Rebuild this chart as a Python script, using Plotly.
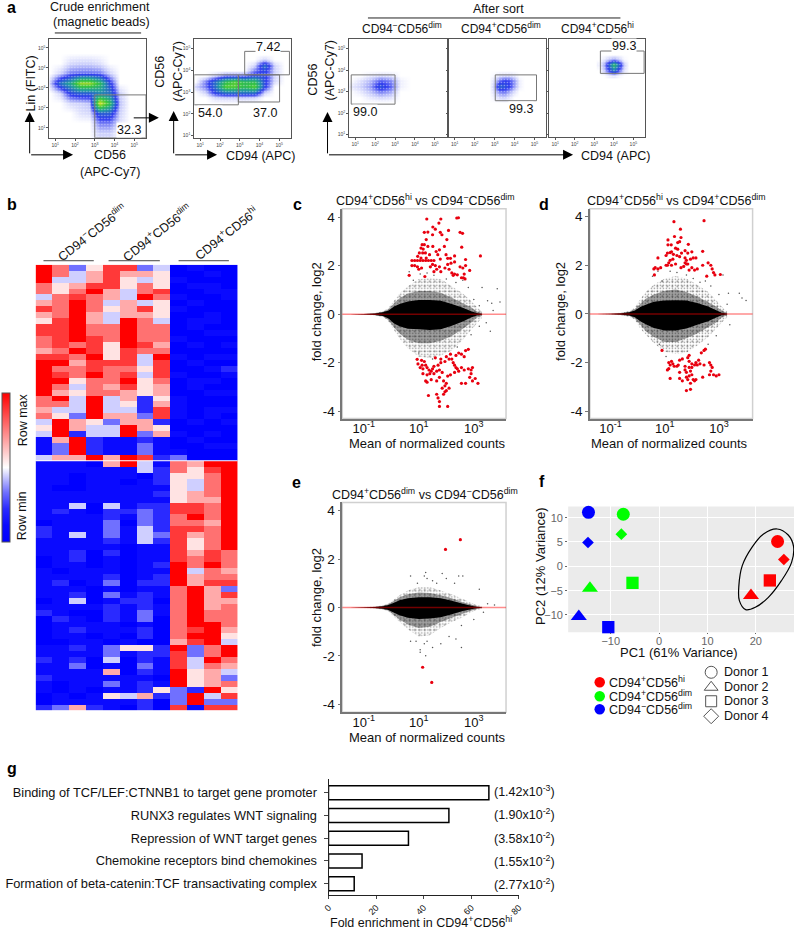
import plotly.graph_objects as go

FONT = 'Liberation Sans'

# ---- panel a, density grids (log10 positions)
a1_x = [0.75, 1.25, 1.75, 2.25, 2.75, 3.25, 3.75, 4.25, 4.75, 5.25]
a1_y = [0.75, 1.25, 1.75, 2.25, 2.75, 3.25, 3.75, 4.25, 4.75, 5.25]
a1_z = [[0, 0, 0, 0, 0, 0.6, 0.6, 0, 0, 0],
        [0, 0, 0, 0, 0, 1.5, 1.5, 0.4, 0, 0],
        [0, 0, 0, 0.4, 0.5, 3, 3, 0.6, 0, 0],
        [0, 0, 0.5, 0.6, 0.8, 9, 6, 0.8, 0, 0],
        [0, 0.6, 2.5, 3, 3, 4, 3.5, 0.6, 0, 0],
        [0.8, 3.5, 5, 8, 8, 6, 2.5, 0, 0, 0],
        [0, 0.6, 1.5, 1.6, 1.6, 1.5, 0.6, 0, 0, 0],
        [0, 0, 0.5, 0.6, 0.6, 0.4, 0, 0, 0, 0],
        [0, 0, 0, 0, 0, 0, 0, 0, 0, 0],
        [0, 0, 0, 0, 0, 0, 0, 0, 0, 0]]
a2_x = [0.75, 1.25, 1.75, 2.25, 2.75, 3.25, 3.75, 4.25, 4.75, 5.25]
a2_y = [2.5, 2.75, 3.0, 3.25, 3.5, 3.75, 4.0, 4.25, 4.5, 4.75]
a2_z = [[0, 0, 0, 0, 0, 0, 0, 0, 0, 0],
        [0, 0, 0.5, 0.6, 0.6, 0.6, 0.5, 0, 0, 0],
        [0, 0.6, 2.5, 3.5, 3.5, 3.5, 3.5, 0.6, 0, 0],
        [0.6, 1.5, 3.5, 7, 7, 6, 7, 2.5, 0, 0],
        [0, 1.5, 3.5, 6, 7, 6, 6, 2.5, 0.5, 0],
        [0, 0, 0.6, 1.5, 1.5, 1.5, 2.5, 2.5, 0.5, 0],
        [0, 0, 0, 0, 0, 0, 1.5, 2.5, 0.6, 0],
        [0, 0, 0, 0, 0, 0, 0.6, 3.5, 0.6, 0],
        [0, 0, 0, 0, 0, 0, 0, 0.6, 0, 0],
        [0, 0, 0, 0, 0, 0, 0, 0, 0, 0]]
a3_x = [0.75, 1.25, 1.75, 2.25, 2.75, 3.25, 3.75]
a3_y = [2.5, 2.75, 3.0, 3.25, 3.5, 3.75, 4.0]
a3_z = [[0, 0, 0, 0, 0, 0, 0],
        [0, 0, 0.3, 0.5, 0.4, 0, 0],
        [0, 0.3, 0.8, 1.5, 1.1, 0, 0],
        [0.3, 0.6, 1.2, 2.8, 1.8, 0.2, 0],
        [0, 0.4, 0.9, 1.8, 1.4, 0.2, 0],
        [0, 0, 0.3, 0.5, 0.4, 0, 0],
        [0, 0, 0, 0, 0, 0, 0]]
a4_x = [2.75, 3.0, 3.25, 3.5, 3.75, 4.0, 4.25, 4.5]
a4_y = [2.5, 2.75, 3.0, 3.25, 3.5, 3.75, 4.0]
a4_z = [[0, 0, 0, 0, 0, 0, 0, 0],
        [0, 0.2, 0.5, 0.6, 0.3, 0, 0, 0],
        [0, 0.5, 1.4, 1.6, 1.0, 0.4, 0, 0],
        [0, 0.8, 3.2, 2.8, 2.2, 1.1, 0.2, 0],
        [0, 0.5, 1.6, 2.2, 2.0, 1.2, 0.2, 0],
        [0, 0.1, 0.4, 0.5, 0.5, 0.3, 0, 0],
        [0, 0, 0, 0, 0, 0, 0, 0]]
a5_x = [3.25, 3.5, 3.75, 4.0, 4.25, 4.5, 4.75]
a5_y = [3.75, 4.0, 4.25, 4.5, 4.75]
a5_z = [[0, 0, 0.2, 0.3, 0.1, 0, 0],
        [0, 0.7, 2.2, 3.8, 1.8, 0.4, 0],
        [0.2, 1.0, 3.2, 5.8, 3.2, 0.7, 0],
        [0, 0.3, 0.8, 1.2, 0.7, 0.1, 0],
        [0, 0, 0, 0, 0, 0, 0]]
a_ticks = [1, 2, 3, 4, 5]
a_tick_text = ['10<sup>1</sup>', '10<sup>2</sup>', '10<sup>3</sup>', '10<sup>4</sup>', '10<sup>5</sup>']
# gates: x0, x1, y0, y1
a1_gate = [3.0, 5.6, 0.5, 2.65]
a2_gates = [[0.68, 2.93, 2.42, 3.8], [2.93, 5.02, 2.55, 3.8], [3.25, 5.52, 3.8, 4.88]]
a3_gate = [0.8, 3.0, 2.42, 3.78]
a4_gate = [3.03, 5.1, 2.58, 3.78]
a5_gate = [3.31, 5.55, 3.85, 4.89]

# ---- panel b, row-scaled expression, 0 = row min, 9 = row max
heat_rows = [
    "973588340100", "974686650010", "944685451000", "756885750110", "757964780011",
    "478764971001", "679746450100", "879756851000", "679646650010", "589649740110",
    "889779770100", "889779770011", "789879771000", "787859860101", "679858770000",
    "887958491011", "996888480100", "977877580012", "987978481001", "995779570110",
    "974768560100", "965776560011", "794946251000", "774945261000", "644944281011",
    "753966381010", "496536620101", "596449650000", "492449361010", "169211210100",
    "139211310011", "139211311000", "466969823000",
    "111069417699", "111111427589", "110111025579", "110110125479", "100111115479",
    "111111125679", "111111115669", "114041228879", "121022328879", "111121327979",
    "011130327769", "211131428879", "214131438679", "111121428579", "111110118579",
    "112020118687", "012010118787", "011010129797", "101110119476", "111120129677",
    "120130229688", "111010117963", "112031217968", "014012207966", "111121217967",
    "210021317977", "021021307977", "011110107997", "012111207896", "011010207995",
    "001101006894", "112135529379", "111131228379", "212040218497", "113010318476",
    "111160219564", "211111109563", "101131219567", "101011253295", "010154623948",
    "011111203933", "236210208188",
]
# low digits stay close to pure blue, as in the reference
heat_cmap = [[0, '#0000ff'], [1 / 9, '#0a0aff'], [2 / 9, '#2a2aff'], [3 / 9, '#7070ff'],
             [4.5 / 9, '#ffffff'], [1, '#ff0000']]

# ---- MA plots, x values are log10 of the mean count
c_cloud_x = [-1.5, -1.0, -0.6, -0.3, -0.1, 0.1, 0.3, 0.6, 1.0, 1.4, 1.8, 2.2, 2.6, 2.9, 3.1, 3.3]
c_core_up = [0.0, 0.01, 0.03, 0.08, 0.15, 0.32, 0.42, 0.52, 0.58, 0.58, 0.55, 0.42, 0.26, 0.12, 0.05, 0.02]
c_core_lo = [0.0, -0.01, -0.03, -0.08, -0.18, -0.38, -0.5, -0.6, -0.62, -0.65, -0.62, -0.48, -0.3, -0.14, -0.06, -0.02]
c_mid_up = [0.0, 0.01, 0.04, 0.1, 0.2, 0.45, 0.65, 0.85, 0.95, 0.95, 0.88, 0.68, 0.45, 0.28, 0.12, 0.04]
c_mid_lo = [0.0, -0.01, -0.04, -0.1, -0.25, -0.55, -0.8, -1.05, -1.2, -1.2, -1.1, -0.9, -0.6, -0.35, -0.15, -0.05]
c_out_up = [0.0, 0.02, 0.05, 0.12, 0.25, 0.55, 0.85, 1.15, 1.45, 1.5, 1.45, 1.15, 0.85, 0.55, 0.3, 0.1]
c_out_lo = [0.0, -0.02, -0.05, -0.12, -0.3, -0.65, -1.0, -1.4, -1.75, -1.8, -1.7, -1.5, -1.05, -0.65, -0.4, -0.15]
c_stray_x = [0.65, 0.8, 1.05, 1.3, 1.55, 2.0, 2.35, 2.6, 2.8, 3.3, 3.5, 3.65, 3.85, 3.95, 3.0, 3.2, 3.45, 3.6, 3.2, 2.9, 1.0, 1.5, 2.4, 0.75, 3.7]
c_stray_y = [1.75, 1.4, 1.65, 1.7, 1.6, 1.45, 1.3, 1.4, 1.1, 1.1, 0.55, 0.45, 1.05, 0.5, 0.6, 0.35, -0.35, -0.7, -0.5, -0.85, -1.6, -1.85, -1.35, -1.15, 0.15]
c_up_x = [1.29, 1.8, 1.73, 1.51, 1.6, 2.08, 2.38, 2.44, 2.5, 2.59, 1.2, 1.33, 1.5, 1.78, 1.84, 1.27, 2.02, 1.12, 1.2, 1.08, 1.16, 1.33, 1.51, 1.63, 1.75, 1.93, 2.56, 1.02, 1.14, 1.24, 1.39, 1.69, 1.99, 3.24, 0.96, 1.08, 1.27, 1.78, 2.7, 2.3, 2.17, 2.05, 0.75, 0.85, 0.95, 1.05, 1.15, 1.25, 1.35, 1.45, 1.55, 0.75, 0.85, 0.95, 1.0, 1.1, 1.6, 1.65, 1.75, 1.8, 1.95, 2.1, 2.2, 2.25, 2.3, 2.4, 2.5, 2.6, 2.7, 2.85, 2.55, 2.62, 2.68, 2.65, 0.65, 1.22, 1.42, 1.5, 1.55, 2.05, 2.15, 2.3]
c_up_y = [3.92, 3.92, 3.75, 3.59, 3.5, 3.45, 3.96, 3.97, 3.37, 3.33, 3.37, 3.38, 3.27, 3.37, 3.27, 3.07, 3.07, 2.86, 2.86, 2.72, 2.68, 2.79, 2.79, 2.58, 2.65, 2.79, 2.76, 2.52, 2.52, 2.52, 2.45, 2.45, 2.45, 2.4, 2.38, 2.31, 2.31, 2.27, 2.25, 2.15, 2.1, 2.05, 2.21, 2.21, 2.21, 2.21, 2.21, 2.21, 2.21, 2.21, 2.21, 2.0, 2.0, 1.95, 1.85, 1.9, 2.0, 1.85, 1.95, 1.75, 1.9, 1.85, 1.7, 1.6, 1.65, 1.62, 1.95, 1.9, 2.0, 1.8, 1.5, 1.5, 1.45, 1.65, 1.6, 1.55, 1.95, 2.05, 1.75, 2.3, 2.3, 2.4]
c_dn_x = [0.94, 0.97, 1.1, 1.12, 1.2, 1.25, 1.05, 1.15, 1.3, 1.37, 1.45, 1.5, 1.55, 1.15, 1.3, 1.4, 1.55, 1.65, 1.75, 1.85, 1.25, 1.3, 1.45, 1.65, 1.75, 1.9, 1.35, 1.65, 1.7, 1.75, 1.75, 2.05, 1.9, 1.95, 2.0, 2.1, 1.85, 1.95, 2.0, 2.05, 2.15, 2.3, 2.4, 2.45, 2.55, 2.65, 2.8, 2.9, 2.95, 2.9, 2.85, 2.55, 2.7, 2.95, 3.05, 3.15, 2.15, 2.2, 2.25, 2.35, 2.45, 2.55, 2.65, 2.7, 2.8, 1.7, 1.8, 1.8, 1.95, 2.0, 2.1, 1.6, 2.3, 2.35]
c_dn_y = [-1.86, -2.05, -1.9, -2.1, -1.95, -2.1, -2.2, -2.25, -2.2, -2.3, -2.35, -2.25, -2.15, -2.45, -2.5, -2.45, -2.45, -2.35, -2.3, -2.4, -2.75, -2.8, -2.7, -2.75, -2.6, -2.75, -3.35, -3.3, -3.45, -3.6, -3.8, -3.8, -3.3, -3.2, -3.15, -3.05, -3.05, -2.95, -2.85, -2.55, -2.5, -2.4, -2.25, -2.35, -2.2, -2.3, -2.25, -2.3, -2.2, -2.45, -2.6, -2.85, -2.85, -2.75, -2.65, -2.85, -1.65, -1.85, -2.0, -1.7, -1.6, -1.65, -1.75, -1.5, -1.45, -2.1, -1.85, -2.0, -1.95, -1.75, -1.85, -1.8, -2.1, -2.2]

d_core_up = [0.0, 0.01, 0.03, 0.07, 0.14, 0.28, 0.38, 0.5, 0.55, 0.56, 0.55, 0.45, 0.3, 0.15, 0.05, 0.02]
d_core_lo = [0.0, -0.01, -0.03, -0.07, -0.14, -0.3, -0.42, -0.58, -0.68, -0.68, -0.6, -0.45, -0.3, -0.15, -0.06, -0.02]
d_mid_up = [0.0, 0.01, 0.04, 0.09, 0.2, 0.42, 0.62, 0.8, 0.95, 1.0, 0.9, 0.72, 0.48, 0.3, 0.14, 0.04]
d_mid_lo = [0.0, -0.01, -0.04, -0.09, -0.2, -0.45, -0.7, -0.95, -1.15, -1.15, -1.0, -0.8, -0.55, -0.35, -0.15, -0.05]
d_out_up = [0.0, 0.02, 0.05, 0.12, 0.28, 0.6, 0.9, 1.2, 1.45, 1.55, 1.45, 1.2, 0.9, 0.55, 0.3, 0.1]
d_out_lo = [0.0, -0.02, -0.05, -0.12, -0.25, -0.6, -0.85, -1.2, -1.55, -1.65, -1.6, -1.3, -0.95, -0.6, -0.35, -0.15]
d_stray_x = [0.55, 0.75, 0.9, 1.2, 1.45, 1.8, 2.05, 2.3, 2.5, 2.7, 3.15, 3.35, 3.75, 3.85, 4.0, 3.3, 3.0, 2.9, 3.4, 1.05, 0.8, 2.6]
d_stray_y = [1.55, 1.75, 1.35, 1.75, 1.7, 1.6, 1.45, 1.3, 1.35, 1.15, 1.6, 0.85, 0.85, 0.65, 0.55, 0.4, 0.8, -0.9, -0.45, -1.75, -1.25, -1.25]
d_up_x = [1.34, 2.45, 1.58, 1.36, 1.6, 1.55, 1.48, 1.12, 1.12, 1.24, 1.87, 1.48, 1.4, 1.62, 1.75, 1.85, 2.0, 2.4, 1.1, 1.2, 1.25, 1.32, 1.05, 1.3, 1.2, 1.15, 1.45, 1.55, 1.75, 1.8, 1.95, 2.05, 2.15, 0.75, 0.65, 0.6, 0.75, 0.85, 1.05, 1.1, 1.25, 1.4, 1.6, 1.7, 1.75, 1.8, 1.9, 2.0, 2.1, 2.2, 2.4, 2.6, 2.7, 2.75, 2.8, 2.85, 3.05, 2.55, 0.62, 1.85]
d_up_y = [3.79, 3.83, 3.48, 3.18, 3.14, 2.97, 2.93, 3.04, 2.84, 2.84, 2.86, 2.66, 2.7, 2.5, 2.6, 2.5, 2.55, 2.57, 2.5, 2.52, 2.55, 2.45, 2.4, 2.25, 2.2, 2.1, 2.4, 2.35, 2.3, 2.2, 2.25, 2.3, 2.3, 2.3, 1.9, 1.85, 1.85, 1.9, 2.0, 2.0, 2.0, 2.05, 1.9, 1.95, 2.1, 2.05, 1.8, 1.9, 1.8, 1.85, 2.0, 2.1, 2.0, 1.85, 1.7, 1.6, 1.62, 1.55, 1.6, 2.05]
d_dn_x = [0.9, 1.15, 1.2, 1.25, 1.3, 1.35, 1.1, 1.15, 1.45, 1.55, 1.65, 1.85, 1.9, 2.0, 2.15, 2.25, 2.35, 2.45, 2.5, 2.3, 2.45, 2.65, 2.7, 2.75, 2.7, 2.65, 2.8, 2.9, 3.0, 2.4, 1.2, 1.55, 1.55, 1.65, 1.75, 1.8, 1.8, 1.85, 1.9, 1.95, 2.0, 2.05, 2.1, 2.15, 1.95, 1.8, 1.95, 2.0, 1.75, 1.9, 2.1, 2.2, 1.9, 1.5]
d_dn_y = [-1.5, -2.0, -2.1, -1.95, -2.05, -2.15, -2.3, -2.25, -2.15, -1.9, -1.85, -1.8, -1.95, -2.05, -2.0, -1.9, -1.6, -1.5, -1.45, -2.05, -2.1, -2.0, -2.1, -2.2, -2.35, -2.5, -2.5, -2.55, -2.5, -2.6, -2.65, -2.4, -2.65, -2.75, -2.3, -2.4, -2.6, -2.7, -2.55, -2.35, -2.5, -2.7, -2.75, -2.7, -2.85, -3.15, -3.1, -2.2, -2.15, -2.2, -2.1, -2.1, -1.7, -2.1]

e_core_up = [0.0, 0.01, 0.02, 0.05, 0.1, 0.2, 0.3, 0.38, 0.42, 0.42, 0.38, 0.28, 0.15, 0.07, 0.03, 0.01]
e_core_lo = [0.0, -0.01, -0.02, -0.05, -0.1, -0.22, -0.32, -0.42, -0.48, -0.46, -0.4, -0.28, -0.15, -0.07, -0.03, -0.01]
e_mid_up = [0.0, 0.01, 0.03, 0.07, 0.14, 0.28, 0.42, 0.55, 0.62, 0.6, 0.5, 0.38, 0.22, 0.12, 0.05, 0.02]
e_mid_lo = [0.0, -0.01, -0.03, -0.07, -0.14, -0.32, -0.5, -0.7, -0.85, -0.8, -0.6, -0.42, -0.26, -0.14, -0.06, -0.02]
e_out_up = [0.0, 0.02, 0.04, 0.08, 0.17, 0.33, 0.5, 0.7, 0.85, 0.85, 0.7, 0.55, 0.35, 0.2, 0.1, 0.04]
e_out_lo = [0.0, -0.02, -0.04, -0.08, -0.17, -0.38, -0.6, -0.9, -1.2, -1.15, -0.85, -0.6, -0.4, -0.2, -0.1, -0.04]
e_stray_x = [0.7, 0.95, 1.2, 1.25, 1.3, 1.5, 1.65, 1.85, 2.0, 2.3, 2.45, 2.6, 3.2, 3.5, 3.75, 0.7, 0.9, 1.05, 1.2, 1.3, 1.5, 1.8, 2.1, 2.35, 2.55, 2.55, 3.35, 1.05, 1.25, 3.0]
e_stray_y = [1.3, 1.0, 1.3, 1.45, 1.2, 1.1, 1.0, 1.4, 1.2, 1.0, 1.3, 1.3, 0.75, 0.15, 0.1, -1.4, -1.4, -1.75, -1.5, -1.4, -1.65, -1.5, -1.2, -1.3, -1.65, -0.75, -0.2, -1.85, -2.0, -0.5]
e_red_x = [1.97, 2.51, 1.14, 1.47]
e_red_y = [2.4, 2.8, -2.47, -3.1]

# ---- panel f
pca_x = [24.5, 19.0, 22.9, 25.8, -7.4, -14.3, -5.5, -7.8, -14.6, -16.6, -10.5, -14.7]
pca_y = [5.1, -6.0, -2.9, 1.4, 10.7, -4.5, -3.4, 6.6, 11.1, -10.3, -12.5, 4.9]
ring_x = [24.4, 26.7, 27.8, 27.4, 25.3, 22.6, 19.9, 17.9, 16.6, 16.5, 17.2, 19.2, 21.6, 24.4]
ring_y = [7.67, 6.44, 4.11, 0.82, -2.95, -6.37, -8.42, -8.9, -7.05, -3.97, 0.14, 3.9, 6.64, 7.67]

# ---- panel g
pathways = ['Binding of TCF/LEF:CTNNB1 to target gene promoter', 'RUNX3 regulates WNT signaling',
            'Repression of WNT target genes', 'Chemokine receptors bind chemokines',
            'Formation of beta-catenin:TCF transactivating complex']
enrichment = [67.4, 50.6, 33.6, 14.1, 10.8]
pvals = ['(1.42x10<sup>-3</sup>)', '(1.90x10<sup>-2</sup>)', '(3.58x10<sup>-2</sup>)',
         '(1.55x10<sup>-2</sup>)', '(2.77x10<sup>-2</sup>)']

NEG = 'CD94<sup>\u2212</sup>CD56<sup>dim</sup>'
POS = 'CD94<sup>+</sup>CD56<sup>dim</sup>'
HI = 'CD94<sup>+</sup>CD56<sup>hi</sup>'

fig = go.Figure()
layout = {}
shapes = []
notes = []


def box(n, l, t, r, b, xa, ya):
    layout[f'xaxis{n}'] = dict(domain=[l / 800, r / 800], anchor=f'y{n}', **xa)
    layout[f'yaxis{n}'] = dict(domain=[1 - b / 931, 1 - t / 931], anchor=f'x{n}', **ya)


def note(x, y, text, size=12.5, angle=0, anchor='center', bg=None, color='#111111'):
    notes.append(dict(x=x, y=y, xref='x12', yref='y12', text=text, showarrow=False, textangle=angle,
                      xanchor=anchor, yanchor='middle', bgcolor=bg, borderpad=0,
                      font=dict(family=FONT, size=size, color=color)))


def arrow(x0, y0, x1, y1):
    notes.append(dict(x=x1, y=y1, ax=x0, ay=y0, xref='x12', yref='y12', axref='x12', ayref='y12', text='',
                      showarrow=True, arrowhead=2, arrowsize=2, arrowwidth=1, arrowcolor='#000000'))


def rule(x0, x1, y, color='#222222', width=1):
    shapes.append(dict(type='line', xref='x12', yref='y12', x0=x0, x1=x1, y0=y, y1=y,
                       line=dict(color=color, width=width)))


flow_cmap = [[0, '#ffffff'], [0.08, '#c5c9fb'], [0.24, '#2f3af0'], [0.5, '#1f9a9e'],
             [0.72, '#33c43c'], [1, '#d8e020']]


def flow(n, l, t, r, b, xs, ys, z, gates, yrange, ylabels=True):
    ax = dict(tickvals=a_ticks, ticktext=a_tick_text, tickfont=dict(family=FONT, size=5, color='#444444'),
              ticks='outside', ticklen=2, tickcolor='#555555', showgrid=False, zeroline=False,
              showline=True, mirror=True, linecolor='#555555', linewidth=1)
    ay = dict(ax)
    ay['range'] = yrange
    if not ylabels:
        ay['showticklabels'] = False
    box(n, l, t, r, b, dict(ax, range=[0.7, 5.6]), ay)
    fig.add_trace(go.Heatmap(x=xs, y=ys, z=z, zsmooth='best', zmin=0, zmax=9, colorscale=flow_cmap,
                             showscale=False, xaxis=f'x{n}', yaxis=f'y{n}', hoverinfo='skip'))
    # white stipple over the density gives the grain of single events
    fig.add_trace(go.Scatter(x=[0.7, 5.6, 5.6, 0.7, 0.7], y=[yrange[0], yrange[0], yrange[1], yrange[1], yrange[0]],
                             fill='toself', mode='none', xaxis=f'x{n}', yaxis=f'y{n}', hoverinfo='skip',
                             fillcolor='rgba(255,255,255,0)',
                             fillpattern=dict(shape='.', size=3, solidity=0.2, fgcolor='#ffffff', bgcolor='rgba(255,255,255,0)')))
    for g in gates:
        shapes.append(dict(type='rect', xref=f'x{n}', yref=f'y{n}', x0=g[0], x1=g[1], y0=g[2], y1=g[3],
                           line=dict(color='#777777', width=1)))


flow(1, 44, 39, 142, 138, a1_x, a1_y, a1_z, [a1_gate], [0.5, 5.45])
flow(2, 191, 39, 289, 138, a2_x, a2_y, a2_z, a2_gates, [0.9, 5.45])
flow(3, 348, 39, 447, 137, a3_x, a3_y, a3_z, [a3_gate], [0.9, 5.45])
flow(4, 449, 39, 548, 137, a4_x, a4_y, a4_z, [a4_gate], [0.9, 5.45], ylabels=False)
flow(5, 551, 39, 648, 137, a5_x, a5_y, a5_z, [a5_gate], [0.9, 5.45], ylabels=False)

# heatmap b, the colour bar comes from the trace itself
fig.add_trace(go.Heatmap(z=[[int(c) for c in row] for row in heat_rows], zmin=0, zmax=9, colorscale=heat_cmap,
                         xaxis='x6', yaxis='y6', hoverinfo='skip',
                         colorbar=dict(x=-0.005, xanchor='left', y=1 - 393 / 931, yanchor='top', len=149 / 931,
                                       lenmode='fraction', thickness=8, xpad=0, ypad=0, ticks='',
                                       showticklabels=False, outlinecolor='#555555', outlinewidth=1)))
box(6, 30, 265, 235, 711, dict(visible=False, range=[-0.5, 11.5]), dict(visible=False, range=[74.5, -0.5]))
shapes.append(dict(type='line', xref='x6', yref='y6', x0=-0.5, x1=11.5, y0=32.5, y1=32.5,
                   line=dict(color='#ffffff', width=1)))


def ma(n, l, t, r, b, xrange, yrange, core_up, core_lo, mid_up, mid_lo, out_up, out_lo, sx, sy, rx, ry):
    xa = dict(range=xrange, tickvals=[-1, 1, 3], ticktext=['10<sup>-1</sup>', '10<sup>1</sup>', '10<sup>3</sup>'],
              tickfont=dict(family=FONT, size=13, color='#111111'), showgrid=False, zeroline=False,
              showline=True, linecolor='#777777', linewidth=1.5, ticks='', ticklen=0, ticklabelstandoff=-3)
    ya = dict(range=yrange, tickvals=[-4, -2, 0, 2, 4], ticktext=['-4', '-2', '0', '2', '4'],
              tickfont=dict(family=FONT, size=13.5, color='#111111'), showgrid=False, zeroline=False,
              showline=True, linecolor='#777777', linewidth=1.5, ticks='outside', ticklen=3, tickcolor='#777777')
    box(n, l, t, r, b, xa, ya)
    shapes.append(dict(type='rect', xref=f'x{n} domain', yref=f'y{n} domain', x0=0, x1=1, y0=0, y1=1,
                       line=dict(color='#d0d0d0', width=1.5), layer='below'))
    xs = c_cloud_x + c_cloud_x[::-1]
    # sparse fringe, two stipple pitches so the dots do not read as one regular grid
    for pitch, solid in [(3, 0.2), (5, 0.12)]:
        fig.add_trace(go.Scatter(x=xs, y=out_up + out_lo[::-1], fill='toself', mode='none', xaxis=f'x{n}', yaxis=f'y{n}',
                                 fillcolor='rgba(255,255,255,0)', hoverinfo='skip',
                                 fillpattern=dict(shape='.', size=pitch, solidity=solid, fgcolor='#222222', bgcolor='rgba(255,255,255,0)')))
    fig.add_trace(go.Scatter(x=xs, y=mid_up + mid_lo[::-1], fill='toself', mode='none', xaxis=f'x{n}', yaxis=f'y{n}',
                             fillcolor='rgba(255,255,255,0)', hoverinfo='skip',
                             fillpattern=dict(shape='.', size=2, solidity=0.75, fgcolor='#000000', bgcolor='rgba(255,255,255,0)')))
    fig.add_trace(go.Scatter(x=xs, y=core_up + core_lo[::-1], fill='toself', mode='none', xaxis=f'x{n}', yaxis=f'y{n}',
                             fillcolor='#000000', hoverinfo='skip'))
    fig.add_trace(go.Scatter(x=sx, y=sy, mode='markers', xaxis=f'x{n}', yaxis=f'y{n}', hoverinfo='skip',
                             marker=dict(size=1.5, color='#555555')))
    fig.add_trace(go.Scatter(x=rx, y=ry, mode='markers', xaxis=f'x{n}', yaxis=f'y{n}', hoverinfo='skip',
                             marker=dict(size=3.2, color='#e8000f')))
    shapes.append(dict(type='line', xref=f'x{n} domain', yref=f'y{n}', x0=0, x1=1, y0=0, y1=0,
                       line=dict(color='rgba(255,0,0,0.45)', width=1.5)))


ma(7, 341, 209, 507, 419, [-1.78, 4.17], [-4.3, 4.34], c_core_up, c_core_lo, c_mid_up, c_mid_lo, c_out_up, c_out_lo,
   c_stray_x, c_stray_y, c_up_x + c_dn_x, c_up_y + c_dn_y)
ma(8, 592, 209, 757, 419, [-1.76, 4.24], [-4.3, 4.32], d_core_up, d_core_lo, d_mid_up, d_mid_lo, d_out_up, d_out_lo,
   d_stray_x, d_stray_y, d_up_x + d_dn_x, d_up_y + d_dn_y)
ma(9, 341, 503, 507, 713, [-1.78, 4.17], [-4.33, 4.34], e_core_up, e_core_lo, e_mid_up, e_mid_lo, e_out_up, e_out_lo,
   e_stray_x, e_stray_y, e_red_x, e_red_y)

# PCA f
box(10, 570, 507, 799, 633,
    dict(range=[-18.8, 27.9], tickvals=[-10, 0, 10, 20], ticktext=['\u221210', '0', '10', '20'],
         tickfont=dict(family=FONT, size=11, color='#666666'), showgrid=True, gridcolor='#ffffff', gridwidth=1,
         zeroline=False, ticks='outside', ticklen=1, tickcolor='#666666', ticklabelstandoff=-3),
    dict(range=[-13.56, 12.3], tickvals=[-10, -5, 0, 5, 10], ticktext=['\u221210', '\u22125', '0', '5', '10'],
         tickfont=dict(family=FONT, size=11, color='#666666'), showgrid=True, gridcolor='#ffffff', gridwidth=1,
         zeroline=False, ticks='outside', ticklen=2, tickcolor='#666666'))
shapes.append(dict(type='rect', xref='x10 domain', yref='y10 domain', x0=0, x1=1, y0=0, y1=1,
                   fillcolor='#ebebeb', line=dict(width=0), layer='below'))
fig.add_trace(go.Scatter(x=ring_x, y=ring_y, mode='lines', line=dict(color='#000000', width=1.2, shape='spline'),
                         xaxis='x10', yaxis='y10', cliponaxis=False, hoverinfo='skip'))
fig.add_trace(go.Scatter(x=pca_x, y=pca_y, mode='markers', xaxis='x10', yaxis='y10', cliponaxis=False, hoverinfo='skip',
                         marker=dict(color=['#ff0000'] * 4 + ['#00ff00'] * 4 + ['#0000ff'] * 4,
                                     symbol=['circle', 'triangle-up', 'square', 'diamond'] * 3,
                                     size=[13, 14, 12.3, 9] * 3, opacity=1, line=dict(width=0))))

# bars g
fig.add_trace(go.Bar(x=enrichment, y=pathways, orientation='h', width=0.62, xaxis='x11', yaxis='y11',
                     marker=dict(color='#ffffff', line=dict(color='#000000', width=1.5)), hoverinfo='skip'))
box(11, 327, 780, 520, 896,
    dict(range=[0, 80], tickvals=[0, 20, 40, 60, 80], tickangle=-45, tickfont=dict(family=FONT, size=9, color='#111111'),
         showgrid=False, zeroline=False, showline=True, linecolor='#222222', linewidth=1, ticks='outside', ticklen=3),
    dict(categoryorder='array', categoryarray=pathways[::-1], range=[-0.5, 4.6], tickfont=dict(family=FONT, size=12.8, color='#111111'),
         showgrid=False, zeroline=False, showline=True, linecolor='#222222', linewidth=1, ticks='outside', ticklen=4,
         ticklabelstandoff=4))
for i, p in enumerate(pvals):
    note(494, 792 + i * 23.2, p, size=12.5, anchor='left')

# overlay in figure pixels for panel letters, labels, arrows and the legend glyphs
layout['xaxis12'] = dict(domain=[0, 1], range=[0, 800], visible=False, anchor='y12')
layout['yaxis12'] = dict(domain=[0, 1], range=[931, 0], visible=False, anchor='x12')

legend_y = [683, 697, 710]
donor_y = [673, 688, 702, 717]
fig.add_trace(go.Scatter(x=[602, 602, 602], y=legend_y, mode='markers', xaxis='x12', yaxis='y12', hoverinfo='skip',
                         marker=dict(size=10.5, opacity=1, color=['#ff0000', '#00ff00', '#0000ff'])))
fig.add_trace(go.Scatter(x=[715, 715, 715, 715], y=donor_y, mode='markers', xaxis='x12', yaxis='y12',
                         hoverinfo='skip', marker=dict(size=[12, 12, 11, 11.5], opacity=1,
                                                       symbol=['circle', 'triangle-up', 'square', 'diamond'],
                                                       color='rgba(255,255,255,0)', line=dict(color='#555555', width=1))))

for letter, x, y in [('a', 6, 8), ('b', 6, 205), ('c', 296, 205), ('d', 545, 205), ('e', 295, 483), ('f', 543, 482), ('g', 6, 769)]:
    note(x, y, f'<b>{letter}</b>', size=16, color='#000000')

note(95, 7, 'Crude enrichment')
note(97, 22, '(magnetic beads)')
rule(49.5, 137, 33)
note(25, 84, 'Lin (FITC)', angle=-90)
note(105, 155, 'CD56')
note(105, 172, '(APC-Cy7)')
arrow(24, 155, 24, 112)
arrow(24, 155, 68, 155)
arrow(128, 118, 155, 118)
note(125, 130, '32.3', bg='#ffffff')
note(156, 72, 'CD56', angle=-90)
note(174, 72, '(APC-Cy7)', angle=-90)
arrow(170, 155, 170, 111)
arrow(170, 155, 214, 155)
note(258, 156, 'CD94 (APC)')
note(266, 47, '7.42', bg='#ffffff')
note(207, 113, '54.0', bg='#ffffff')
note(263, 113, '37.0', bg='#ffffff')
note(311, 80, 'CD56', angle=-90)
note(328, 70, '(APC-Cy7)', angle=-90)
arrow(326, 155, 326, 112)
arrow(326, 155, 575, 155)
note(618, 156, 'CD94 (APC)')
note(499, 9.5, 'After sort')
rule(367, 623, 18)
note(402, 28, NEG, size=12)
note(502, 28, POS, size=12)
note(600, 28, HI, size=12)
note(364, 112, '99.0', bg='#ffffff')
note(522, 109, '99.3', bg='#ffffff')
note(627, 46, '99.3', bg='#ffffff')

note(87, 232, NEG, size=12.5, angle=-38)
note(153, 232, POS, size=12.5, angle=-38)
note(223, 233, HI, size=12.5, angle=-38)
rule(38, 89, 261, color='#444444')
rule(104, 156, 261, color='#444444')
rule(175, 226, 261, color='#444444')
note(17, 420, 'Row max', angle=-90)
note(17, 516, 'Row min', angle=-90)

note(425, 200, HI + ' vs ' + NEG)
note(679, 200, HI + ' vs ' + POS)
note(425, 495, POS + ' vs ' + NEG)
for x, y in [(315, 312), (562, 312), (315, 598)]:
    note(x, y, 'fold change, log2', size=13, angle=-90)
for x, y in [(427, 444), (673, 444), (427, 738)]:
    note(x, y, 'Mean of normalized counts', size=13)

note(682, 653, 'PC1 (61% Variance)', size=13)
note(542, 567, 'PC2 (12% Variance)', size=13, angle=-90)
for y, t in zip(legend_y, [HI, POS, NEG]):
    note(610, y, t, size=12.5, anchor='left')
for y, t in zip(donor_y, ['Donor 1', 'Donor 2', 'Donor 3', 'Donor 4']):
    note(727, y, t, size=12.5, anchor='left')
note(421, 923, 'Fold enrichment in ' + HI, size=12.5)

fig.update_layout(width=800, height=931, margin=dict(l=0, r=0, t=0, b=0), autosize=False, showlegend=False,
                  paper_bgcolor='#ffffff', plot_bgcolor='rgba(0,0,0,0)', barmode='overlay',
                  shapes=shapes, annotations=notes, **layout)
fig.write_html("out.html", config=dict(displayModeBar=False), post_script="document.body.style.margin='0';")
